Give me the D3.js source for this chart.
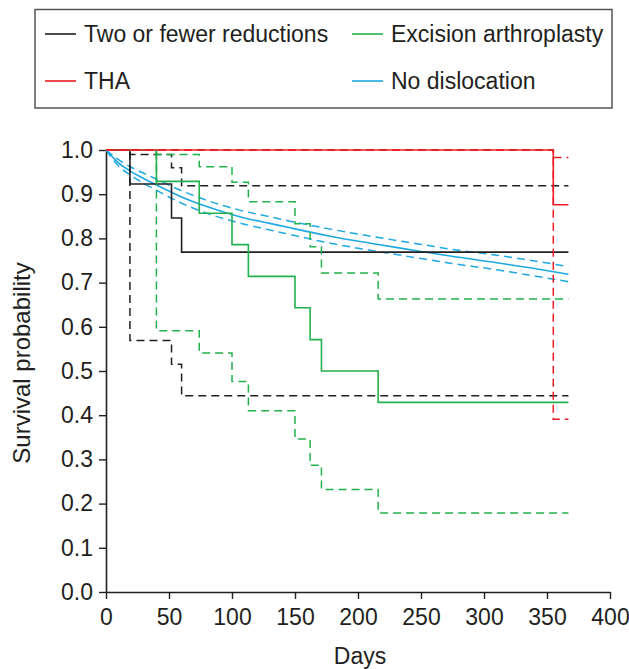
<!DOCTYPE html>
<html>
<head>
<meta charset="utf-8">
<script src="https://cdn.jsdelivr.net/npm/d3@7"></script>
<style>
  body { margin: 0; background: #fff; }
  svg { display: block; font-family: "Liberation Sans", Arial, sans-serif; }
</style>
</head>
<body>
<div id="chart"></div>
<script>
// Two or fewer reductions (Kaplan-Meier steps + 95% CI)
const twoDays  = [0, 19, 52, 60, 367];
const twoSurv  = [1, 0.923, 0.846, 0.769, 0.769];
const twoUpper = [1, 0.990, 0.960, 0.919, 0.919];
const twoLower = [1, 0.569, 0.515, 0.444, 0.444];

// Excision arthroplasty
const excDays  = [0, 40, 74, 100, 113, 150, 162, 171, 216, 367];
const excSurv  = [1, 0.929, 0.857, 0.786, 0.714, 0.643, 0.571, 0.500, 0.429, 0.429];
const excUpper = [1, 0.990, 0.962, 0.927, 0.883, 0.833, 0.781, 0.722, 0.663, 0.663];
const excLower = [1, 0.591, 0.541, 0.476, 0.410, 0.346, 0.287, 0.232, 0.179, 0.179];

// THA
const thaDays  = [0, 355, 367];
const thaSurv  = [1, 0.876, 0.876];
const thaUpper = [1, 0.983, 0.983];
const thaLower = [1, 0.391, 0.391];

// No dislocation (many events, drawn smooth)
const noDays  = [0, 10, 20, 31, 40, 59, 80, 106, 130, 146, 178, 210, 249, 273, 310, 340, 367];
const noSurv  = [1, 0.971, 0.951, 0.934, 0.921, 0.895, 0.872, 0.849, 0.834, 0.824, 0.805, 0.789, 0.771, 0.760, 0.745, 0.732, 0.719];
const noUpper = [1, 0.978, 0.961, 0.946, 0.934, 0.909, 0.886, 0.864, 0.849, 0.839, 0.821, 0.805, 0.787, 0.776, 0.762, 0.749, 0.736];
const noLower = [1, 0.964, 0.942, 0.923, 0.909, 0.881, 0.857, 0.835, 0.819, 0.809, 0.789, 0.773, 0.755, 0.744, 0.729, 0.715, 0.702];

const xTicks = [0, 50, 100, 150, 200, 250, 300, 350, 400];
const yTicks = [0, 0.1, 0.2, 0.3, 0.4, 0.5, 0.6, 0.7, 0.8, 0.9, 1.0];

const colors = { black: '#231f20', green: '#22b14c', red: '#ed1c24', blue: '#1fa8e1' };

const width = 629, height = 669;
const margin = { top: 150, right: 19, bottom: 77, left: 106 };
const innerW = width - margin.left - margin.right;
const innerH = height - margin.top - margin.bottom;

const svg = d3.select('#chart').append('svg')
    .attr('width', width)
    .attr('height', height);

const root = svg.append('g')
    .attr('transform', `translate(${margin.left},${margin.top})`);

const x = d3.scaleLinear().domain([0, 400]).range([0, innerW]);
const y = d3.scaleLinear().domain([0, 1]).range([innerH, 0]);

// axes
const yAxis = root.append('g')
    .call(d3.axisLeft(y).tickValues(yTicks).tickFormat(d3.format('.1f')).tickSize(7).tickSizeOuter(0).tickPadding(6));
const xAxis = root.append('g')
    .attr('transform', `translate(0,${innerH})`)
    .call(d3.axisBottom(x).tickValues(xTicks).tickSize(7).tickSizeOuter(0).tickPadding(10));

[xAxis, yAxis].forEach(ax => {
    ax.select('.domain').attr('stroke', '#231f20').attr('stroke-width', 1.6);
    ax.selectAll('.tick line').attr('stroke', '#231f20').attr('stroke-width', 1.4);
    ax.selectAll('.tick text').attr('fill', '#231f20').style('font-size', '23px');
});

const stepLine = d3.line().x(d => x(d[0])).y(d => y(d[1])).curve(d3.curveStepAfter);
const smoothLine = d3.line().x(d => x(d[0])).y(d => y(d[1])).curve(d3.curveMonotoneX);

const zip = (a, b) => a.map((v, i) => [v, b[i]]);

function drawSeries(days, surv, upper, lower, color, gen) {
    const g = root.append('g');
    [upper, lower].forEach(ci => {
        g.append('path')
            .attr('d', gen(zip(days, ci)))
            .attr('fill', 'none')
            .attr('stroke', color)
            .attr('stroke-width', 1.5)
            .attr('stroke-dasharray', '8,5');
    });
    g.append('path')
        .attr('d', gen(zip(days, surv)))
        .attr('fill', 'none')
        .attr('stroke', color)
        .attr('stroke-width', 1.6);
}

drawSeries(noDays, noSurv, noUpper, noLower, colors.blue, smoothLine);
drawSeries(twoDays, twoSurv, twoUpper, twoLower, colors.black, stepLine);
drawSeries(excDays, excSurv, excUpper, excLower, colors.green, stepLine);
drawSeries(thaDays, thaSurv, thaUpper, thaLower, colors.red, stepLine);

// axis titles
svg.append('text')
    .attr('x', 360)
    .attr('y', 664)
    .attr('text-anchor', 'middle')
    .attr('fill', '#231f20')
    .style('font-size', '23px')
    .text('Days');

svg.append('text')
    .attr('transform', `translate(30,${margin.top + y(0.5) - 8}) rotate(-90)`)
    .attr('text-anchor', 'middle')
    .attr('fill', '#231f20')
    .style('font-size', '24px')
    .text('Survival probability');

// legend
const legend = svg.append('g');
legend.append('rect')
    .attr('x', 35).attr('y', 9.5)
    .attr('width', 577).attr('height', 98.5)
    .attr('fill', 'none')
    .attr('stroke', '#555')
    .attr('stroke-width', 1.5);

const legendItems = [
    { label: 'Two or fewer reductions', color: colors.black, lx: 45, ly: 34 },
    { label: 'Excision arthroplasty', color: colors.green, lx: 352, ly: 34 },
    { label: 'THA', color: colors.red, lx: 45, ly: 81 },
    { label: 'No dislocation', color: colors.blue, lx: 352, ly: 81 }
];

const li = legend.selectAll('.item').data(legendItems).join('g')
    .attr('class', 'item')
    .attr('transform', d => `translate(${d.lx},${d.ly})`);
li.append('line')
    .attr('x1', 0).attr('x2', 31)
    .attr('stroke', d => d.color)
    .attr('stroke-width', 1.6);
li.append('text')
    .attr('x', 39).attr('dy', '0.35em')
    .attr('fill', '#231f20')
    .style('font-size', '23px')
    .text(d => d.label);
</script>
</body>
</html>
